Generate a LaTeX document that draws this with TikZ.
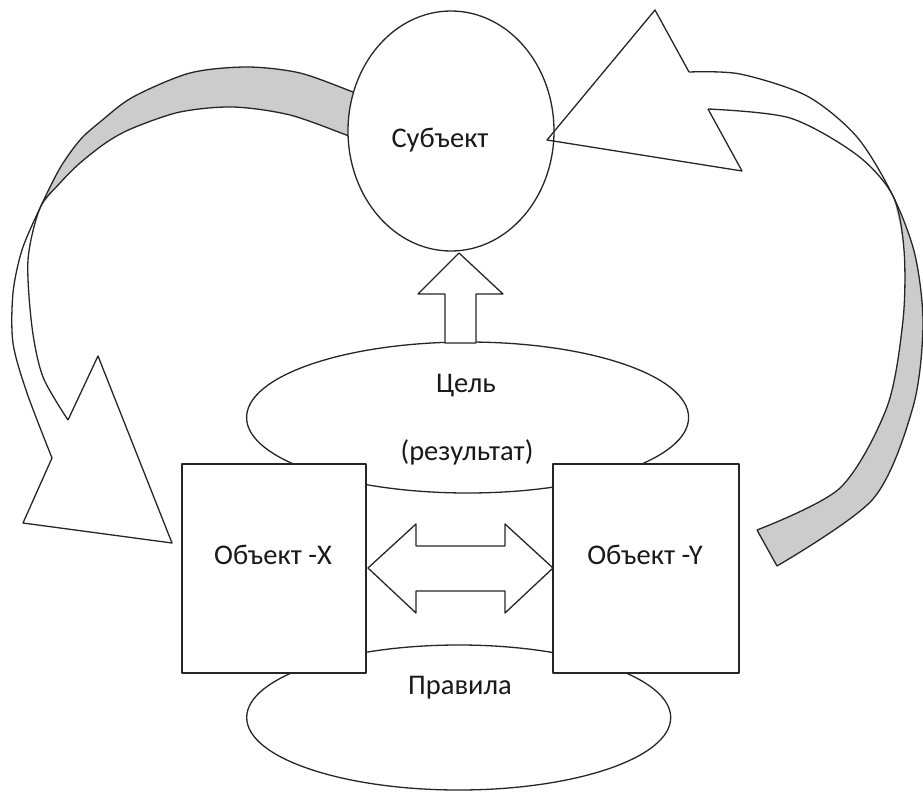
\documentclass[tikz,border=0pt]{standalone}
\usepackage{fontspec}
\setmainfont{Carlito}
\usetikzlibrary{shapes.geometric}
\begin{document}
\begin{tikzpicture}[x=1pt,y=-1pt, line width=1.3pt, line join=round,
  shp/.style={draw=black!85, fill=white},
  oval/.style={ellipse, draw=black!85, fill=white, inner sep=0pt},
  lbl/.style={font=\fontsize{28.5}{34}\selectfont, text=black!90, inner sep=0pt},
  edge/.style={draw=black!85},
  shade/.style={fill=black!20}]
\useasboundingbox (0,0) rectangle (923,792);

% goal and rules ellipses
\node[oval, minimum width=442pt, minimum height=151pt] (goal) at (467.6,417.5) {};
\node[oval, minimum width=424pt, minimum height=145pt] (rules) at (458.7,717.5) {};

% up arrow
\draw[shp] (459,253) -- (503,294) -- (476,294) -- (476,343) -- (445,343) -- (445,294) -- (418,294) -- cycle;

% boxes
\node[shp, minimum width=184pt, minimum height=209pt, inner sep=0pt] (objx) at (274,568.5) {};
\node[shp, minimum width=186pt, minimum height=209pt, inner sep=0pt] (objy) at (646,568.5) {};

% double arrow
\draw[shp] (368,568) -- (416,524) -- (416,546) -- (505,546) -- (505,524) -- (553,568)
  -- (505,613) -- (505,591) -- (416,591) -- (416,613) -- cycle;

% left ribbon
\path[shade] plot[smooth] coordinates {(366,97) (353,92) (300,73) (247,67) (190,73) (133,97) (100,122) (80,140) (60,168) (40,208)}
  -- plot[smooth] coordinates {(40,208) (60,183) (80,163) (107,142) (133,128) (180,112) (233,107) (290,115) (349,136) (362,141)} -- cycle;
\draw[edge] plot[smooth] coordinates {(366,97) (353,92) (300,73) (247,67) (190,73) (133,97) (100,122) (80,140) (60,168) (40,208) (22,250) (13,293) (13,343) (27,393) (52,458)};
\draw[edge] plot[smooth] coordinates {(362,141) (349,136) (290,115) (233,107) (180,112) (133,128) (107,142) (80,163) (60,183) (40,208) (28,260) (32,327) (43,377) (68,420)};
\draw[edge] (68,420) -- (98,356) -- (172,543) -- (23,523) -- (52,458);

% subject
\node[oval, minimum width=206pt, minimum height=240pt] (subj) at (451,131) {};

% right ribbon
\path[shade] plot[smooth] coordinates {(893,196) (915,255) (923,325) (913,407) (873,499) (777,566)}
  -- plot[smooth] coordinates {(757,530) (840,488) (887,407) (903,320) (904,250) (893,196)} -- cycle;
\draw[edge] plot[smooth] coordinates {(689,72) (740,74) (807,96) (857,137) (893,196) (915,255) (923,325) (913,407) (873,499) (777,566)};
\draw[edge] plot[smooth] coordinates {(708,109) (790,118) (857,155) (893,196) (904,250) (903,320) (887,407) (840,488) (757,530)};
\draw[edge] (757,530) -- (777,566);
\draw[edge] (689,72) -- (655,10) -- (547,140) -- (742,171) -- (708,109);

% labels
\node[lbl] (tsubj) at (440,140) {Субъект};
\node[lbl] (tgoal) at (466,386) {Цель};
\node[lbl] (tres) at (467,452) {(результат)};
\node[lbl] (tx) at (273,555) {Объект -X};
\node[lbl] (ty) at (645,555) {Объект -Y};
\node[lbl] (trules) at (460,688) {Правила};
\end{tikzpicture}
\end{document}
